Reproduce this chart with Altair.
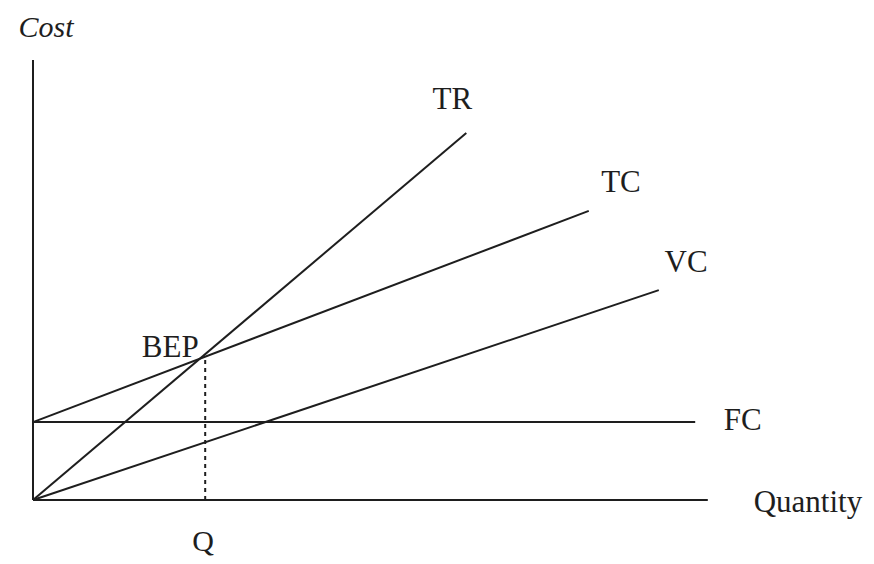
import altair as alt
import pandas as pd

# Break-even chart values (Quantity 0-100, Cost 0-100 in chart units)
series = ["TR", "TC", "VC", "FC"]
q_start = [0, 0, 0, 0]
cost_start = [0, 17.7, 0, 17.7]
q_end = [61.9, 79.4, 89.4, 94.6]
cost_end = [83.4, 65.7, 47.7, 17.7]

# Axis lines
axis_names = ["Cost", "Quantity"]
axis_q0 = [0, 0]
axis_c0 = [0, 0]
axis_q1 = [0, 96.4]
axis_c1 = [100, 0]

# Break-even point
bep_q = 24.6
bep_cost = 32.5

# Labels (centred, baseline middle)
label_text = ["TR", "TC", "VC", "FC", "Quantity", "BEP"]
label_q = [59.9, 84.0, 93.3, 101.4, 110.7, 19.6]
label_cost = [90.9, 72.0, 53.9, 18.0, -0.7, 34.5]

# Q label (alphabetic baseline)
q_label_text = ["Q"]
q_label_q = [24.3]
q_label_cost = [-11.6]

lines_df = pd.DataFrame({"series": series, "q0": q_start, "c0": cost_start,
                         "q1": q_end, "c1": cost_end})
axes_df = pd.DataFrame({"name": axis_names, "q0": axis_q0, "c0": axis_c0,
                        "q1": axis_q1, "c1": axis_c1})
bep_df = pd.DataFrame({"q0": [bep_q], "c0": [0], "q1": [bep_q], "c1": [bep_cost]})
labels_df = pd.DataFrame({"text": label_text, "q": label_q, "c": label_cost})
qlab_df = pd.DataFrame({"text": q_label_text, "q": q_label_q, "c": q_label_cost})
title_df = pd.DataFrame({"text": ["Cost"], "q": [1.86], "c": [107.3]})

xs = alt.Scale(domain=[-3.571, 119.0], nice=False, zero=False)
ys = alt.Scale(domain=[-12.73, 111.82], nice=False, zero=False)
ink = "#1e1e1e"
font = "Liberation Serif"

def X(f):
    return alt.X(f, type="quantitative", scale=xs, axis=None)

def Y(f):
    return alt.Y(f, type="quantitative", scale=ys, axis=None)

axes_layer = alt.Chart(axes_df).mark_rule(color=ink, strokeWidth=2).encode(
    x=X("q0"), y=Y("c0"), x2="q1", y2="c1")
lines_layer = alt.Chart(lines_df).mark_rule(color=ink, strokeWidth=2).encode(
    x=X("q0"), y=Y("c0"), x2="q1", y2="c1")
bep_layer = alt.Chart(bep_df).mark_rule(color=ink, strokeWidth=2, strokeDash=[4, 4]).encode(
    x=X("q0"), y=Y("c0"), x2="q1", y2="c1")
text_layer = alt.Chart(labels_df).mark_text(
    font=font, fontSize=31, color=ink, align="center", baseline="middle").encode(
    x=X("q"), y=Y("c"), text="text:N")
q_layer = alt.Chart(qlab_df).mark_text(
    font=font, fontSize=30, color=ink, align="center", baseline="alphabetic").encode(
    x=X("q"), y=Y("c"), text="text:N")
title_layer = alt.Chart(title_df).mark_text(
    font=font, fontSize=30, fontStyle="italic", color=ink, align="center",
    baseline="middle").encode(x=X("q"), y=Y("c"), text="text:N")

chart = alt.layer(axes_layer, lines_layer, bep_layer, text_layer, q_layer, title_layer).properties(
    width=858, height=548, autosize=alt.AutoSizeParams(type="none"), padding=0,
    background="white"
).configure_view(stroke=None)

chart.save("out.html", embed_options={"renderer": "svg", "actions": False})
